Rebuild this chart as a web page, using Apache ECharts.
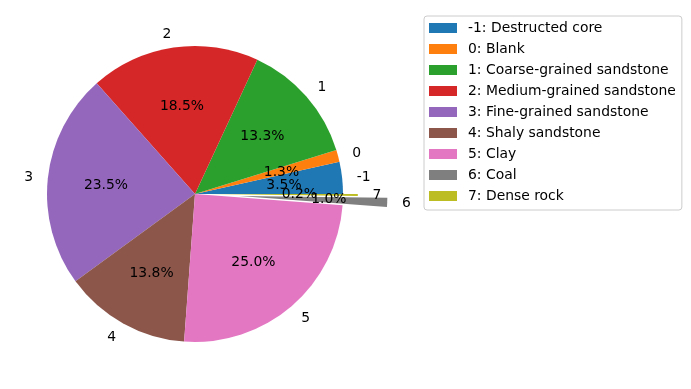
<!DOCTYPE html>
<html>
<head>
<meta charset="utf-8">
<script src="https://cdn.jsdelivr.net/npm/echarts@6/dist/echarts.min.js"></script>
<style>html,body{margin:0;padding:0;background:#fff;}#c{width:691px;height:389px;}</style>
</head>
<body>
<div id="c"></div>
<script>
const categories = ['-1', '0', '1', '2', '3', '4', '5', '6', '7'];
const legendNames = ['-1: Destructed core', '0: Blank', '1: Coarse-grained sandstone', '2: Medium-grained sandstone', '3: Fine-grained sandstone', '4: Shaly sandstone', '5: Clay', '6: Coal', '7: Dense rock'];
const percents = [3.5, 1.3, 13.3, 18.5, 23.5, 13.8, 25.0, 1.0, 0.2];
const explode = [0, 0, 0, 0, 0, 0, 0, 0.3, 0.1];
const colors = ['#1f77b4', '#ff7f0e', '#2ca02c', '#d62728', '#9467bd', '#8c564b', '#e377c2', '#7f7f7f', '#bcbd22'];

const R = 148;
const CENTER = [195, 194];
const FONT = 'DejaVu Sans';
const FS = 13.9;

const groups = Array.from(new Set(explode));
const series = [];
groups.forEach(function (g) {
  const common = {
    type: 'pie',
    center: CENTER,
    startAngle: 0,
    clockwise: false,
    avoidLabelOverlap: false,
    minShowLabelAngle: 0,
    labelLayout: { hideOverlap: false, moveOverlap: null },
    animation: false,
    silent: true,
    selectedMode: g > 0 ? 'multiple' : false,
    selectedOffset: g * R,
    emphasis: { disabled: true },
    itemStyle: { borderWidth: 0 }
  };
  // slices with outer category labels
  series.push(Object.assign({}, common, {
    radius: [0, R],
    label: {
      position: 'outside', color: '#000', fontFamily: FONT, fontSize: FS,
      distanceToLabelLine: 0, offset: [0, 1],
      formatter: function (p) { return categories[p.dataIndex]; }
    },
    labelLine: { show: false, length: 0.1 * R, length2: 0 },
    data: percents.map(function (v, i) {
      const inG = explode[i] === g;
      return {
        value: v, name: legendNames[i],
        selected: g > 0 && inG,
        itemStyle: { color: inG ? colors[i] : 'rgba(0,0,0,0)' },
        label: { show: inG }
      };
    })
  }));
  // percent labels near 0.6R
  series.push(Object.assign({}, common, {
    radius: [25, R],
    label: {
      position: 'inside', color: '#000', fontFamily: FONT, fontSize: FS,
      offset: [0, 1],
      formatter: function (p) { return percents[p.dataIndex].toFixed(1) + '%'; }
    },
    labelLine: { show: false },
    data: percents.map(function (v, i) {
      const inG = explode[i] === g;
      return {
        value: v, name: legendNames[i],
        selected: g > 0 && inG,
        itemStyle: { color: 'rgba(0,0,0,0)' },
        label: { show: inG }
      };
    })
  }));
});

const chart = echarts.init(document.getElementById('c'), null, { renderer: 'canvas' });
chart.setOption({
  backgroundColor: '#fff',
  animation: false,
  legend: {
    orient: 'vertical',
    left: 424, top: 16,
    padding: [5, 6, 7, 5],
    itemGap: 7,
    itemWidth: 28, itemHeight: 10,
    icon: 'rect',
    backgroundColor: '#fff',
    borderColor: '#cccccc', borderWidth: 1, borderRadius: 3,
    selectedMode: false,
    textStyle: { fontFamily: FONT, fontSize: FS, color: '#000', lineHeight: 13, padding: [0, 0, 0, 6] },
    data: legendNames.map(function (n, i) { return { name: n, itemStyle: { color: colors[i], opacity: 1 } }; })
  },
  series: series
});
</script>
</body>
</html>
